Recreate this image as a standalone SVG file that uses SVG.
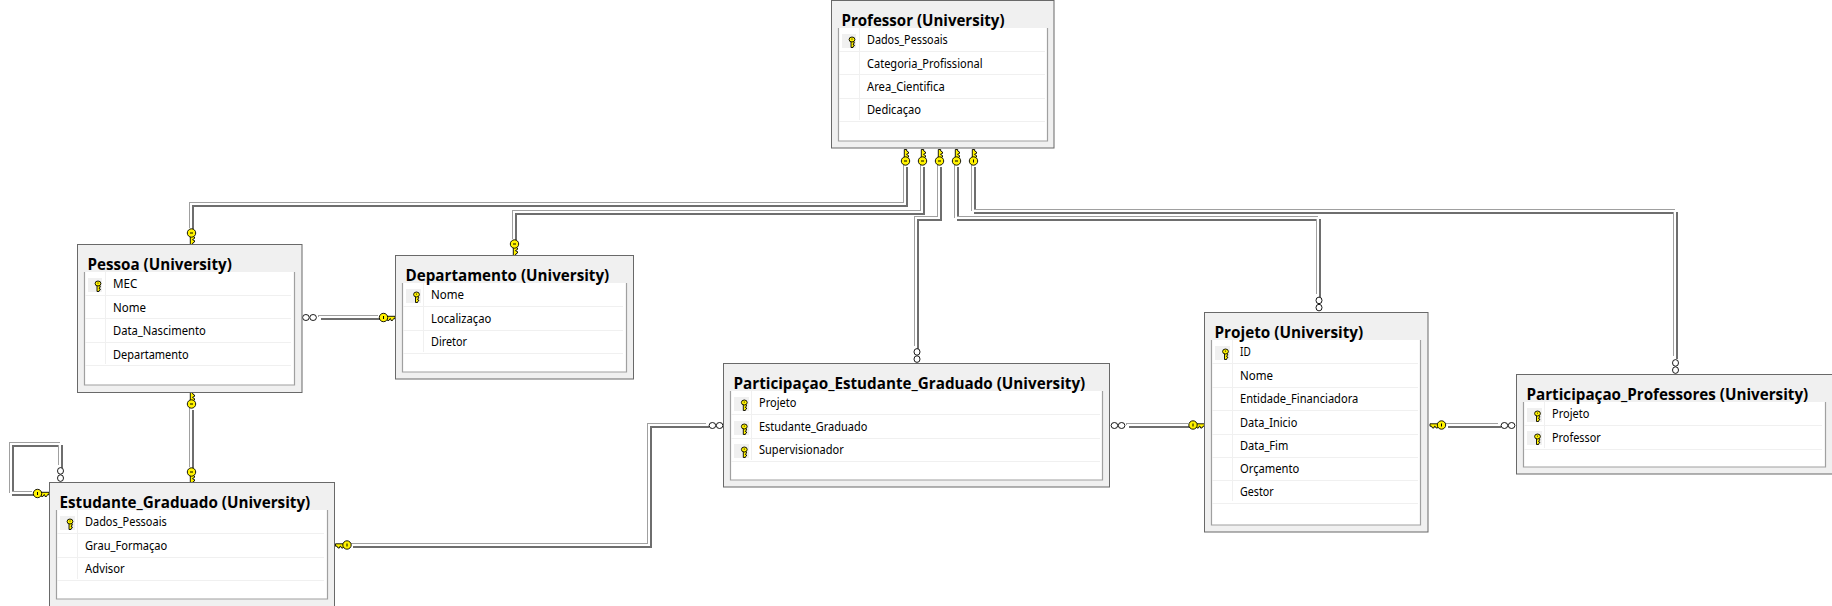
<svg xmlns="http://www.w3.org/2000/svg" width="1832" height="606" viewBox="0 0 1832 606">
<style>
.bg{fill:#fff}
.o{fill:#f0f0f0;stroke:#696969;stroke-width:1}
.i{fill:#fff}
.b{fill:none;stroke:#a0a0a0;stroke-width:1.2}
.s{fill:none;stroke:#f0f0f0;stroke-width:1}
.kb{fill:#f0f0f0}
.t{font-family:"Open Sans","Noto Sans",sans-serif;font-weight:700;font-size:15.5px;fill:#000}
.r{font-family:"Noto Sans","Open Sans",sans-serif;font-size:12px;fill:#000}
.c{fill:none;stroke:#fff;stroke-width:2;stroke-linejoin:miter}
.ky{fill:#fff200;stroke:#000;stroke-width:.9}
.sl{fill:none;stroke:#000;stroke-width:1}
.in{fill:#fff;stroke:#000;stroke-width:.9}
</style>
<defs>
<filter id="bevel" filterUnits="userSpaceOnUse" x="0" y="0" width="1832" height="606" color-interpolation-filters="sRGB">
<feOffset in="SourceAlpha" dx="1.5" dy="1.5" result="d"/><feFlood flood-color="#6e6e6e"/><feComposite in2="d" operator="in" result="dark"/>
<feOffset in="SourceAlpha" dx="-1" dy="-1" result="l"/><feFlood flood-color="#a0a0a0"/><feComposite in2="l" operator="in" result="light"/>
<feMerge><feMergeNode in="dark"/><feMergeNode in="light"/><feMergeNode in="SourceGraphic"/></feMerge>
</filter>
<g id="ck"><path class="ky" d="M-1.2 3V11.5H1.2V10L3 9V7.6L1.2 7V6.4L3 5.4V4L1.2 3Z"/><circle class="ky" cx="0" cy="0" r="4.2"/><path class="sl" d="M-1.5 0H1.5"/></g>
<g id="ck2"><path class="ky" d="M-1.2 3V11.5H1.2V10L3 9V7.6L1.2 7V6.4L3 5.4V4L1.2 3Z"/><circle class="ky" cx="0" cy="0" r="4.2"/><path class="sl" d="M0 -1.5V1.5"/></g>
<g id="rk"><path class="ky" d="M-1 0V7H1V6.2L2.2 5.5V4.4L1 3.9V3.5L2.2 2.8V1.6L1 1Z"/><ellipse class="ky" cx="0" cy="-1" rx="2.9" ry="2.5"/><circle cx="0" cy="-1.5" r=".6" fill="#000"/></g>
<g id="inf"><ellipse class="in" cx="0" cy="-3.6" rx="3" ry="3.3"/><ellipse class="in" cx="0" cy="3.6" rx="3" ry="3.3"/></g>
</defs>
<rect class="bg" width="1832" height="606"/>

<g id="connectors">
<g filter="url(#bevel)">
<path id="c1" class="c" d="M905 165V204H191V229"/>
<path id="c2" class="c" d="M922 165V212H514V240"/>
<path id="c3" class="c" d="M939 165V218H916V347"/>
<path id="c4" class="c" d="M956 165V218H1318V295"/>
<path id="c5" class="c" d="M973 165V211H1675V357"/>
<path id="c6" class="c" d="M319 317H379"/>
<path id="c7" class="c" d="M191 408V468"/>
<path id="c8" class="c" d="M60 466V444H11V493H33"/>
<path id="c9" class="c" d="M351 545H649V425H707"/>
<path id="c10" class="c" d="M1127 425H1189"/>
<path id="c11" class="c" d="M1446 425H1499"/>
</g>
<g id="ends">
<use href="#ck" transform="translate(905.5 161) scale(1 -1)"/>
<use href="#ck" transform="translate(922.5 161) scale(1 -1)"/>
<use href="#ck" transform="translate(939.5 161) scale(1 -1)"/>
<use href="#ck" transform="translate(956.5 161) scale(1 -1)"/>
<use href="#ck2" transform="translate(973.5 161) scale(1 -1)"/>
<use href="#ck" transform="translate(191.5 233)"/>
<use href="#ck" transform="translate(514.5 244)"/>
<use href="#ck" transform="translate(191.5 404) scale(1 -1)"/>
<use href="#ck" transform="translate(191.5 472)"/>
<use href="#ck" transform="matrix(0 1 1 0 37.5 493.5)"/>
<use href="#ck" transform="matrix(0 1 -1 0 347 545)"/>
<use href="#ck" transform="matrix(0 1 1 0 383.5 317.5)"/>
<use href="#ck" transform="matrix(0 1 1 0 1193 425)"/>
<use href="#ck" transform="matrix(0 1 -1 0 1441.5 425)"/>
<use href="#inf" transform="translate(309.5 317.5) rotate(90)"/>
<use href="#inf" transform="translate(917 355.5)"/>
<use href="#inf" transform="translate(1319 304)"/>
<use href="#inf" transform="translate(1675.5 366.5)"/>
<use href="#inf" transform="translate(60.5 474.5)"/>
<use href="#inf" transform="translate(716 425.5) rotate(90)"/>
<use href="#inf" transform="translate(1118 425.5) rotate(90)"/>
<use href="#inf" transform="translate(1508 425.5) rotate(90)"/>
</g>
</g>

<g id="professor">
<rect class="o" x="831.5" y="0.5" width="222.5" height="147.5"/>
<rect class="i" x="838" y="28" width="209" height="113"/>
<path class="b" d="M838.5 28V141H1047.5V28"/>
<path class="s" d="M839 51.5H1045M839 74.5H1045M839 98.5H1045M839 121.5H1045M859.5 28V120"/>
<rect class="kb" x="842" y="34" width="14" height="14"/><use href="#rk" transform="translate(852 40.5)"/>
<text class="t" x="841.5" y="25.7" textLength="163" lengthAdjust="spacingAndGlyphs">Professor (University)</text>
<text class="r" x="867" y="44.2" textLength="80.7" lengthAdjust="spacingAndGlyphs">Dados_Pessoais</text>
<text class="r" x="867" y="67.7" textLength="115.5" lengthAdjust="spacingAndGlyphs">Categoria_Profissional</text>
<text class="r" x="867" y="90.7" textLength="77.7" lengthAdjust="spacingAndGlyphs">Area_Cientifica</text>
<text class="r" x="867" y="113.9" textLength="54" lengthAdjust="spacingAndGlyphs">Dedicaçao</text>
</g>

<g id="pessoa">
<rect class="o" x="77.5" y="244.5" width="224.5" height="148"/>
<rect class="i" x="84" y="272" width="211" height="113"/>
<path class="b" d="M84.5 272V385H294.5V272"/>
<path class="s" d="M85 295.5H291M85 318.5H291M85 342.5H291M85 365.5H291M105.5 272V364"/>
<rect class="kb" x="88" y="278" width="14" height="14"/><use href="#rk" transform="translate(98 284.5)"/>
<text class="t" x="87.5" y="269.7" textLength="144.3" lengthAdjust="spacingAndGlyphs">Pessoa (University)</text>
<text class="r" x="113" y="288.2" textLength="24.3" lengthAdjust="spacingAndGlyphs">MEC</text>
<text class="r" x="113" y="311.7" textLength="33" lengthAdjust="spacingAndGlyphs">Nome</text>
<text class="r" x="113" y="335" textLength="92.7" lengthAdjust="spacingAndGlyphs">Data_Nascimento</text>
<text class="r" x="113" y="358.7" textLength="75.7" lengthAdjust="spacingAndGlyphs">Departamento</text>
</g>

<g id="estudante_graduado">
<rect class="o" x="49.5" y="482.5" width="285" height="130"/>
<rect class="i" x="56" y="510" width="272" height="89"/>
<path class="b" d="M56.5 510V599H327.5V510"/>
<path class="s" d="M57 533.5H324M57 557.5H324M57 580.5H324M77.5 510V579"/>
<rect class="kb" x="60" y="516" width="15" height="14"/><use href="#rk" transform="translate(70 522.5)"/>
<text class="t" x="59.5" y="507.7" textLength="250.7" lengthAdjust="spacingAndGlyphs">Estudante_Graduado (University)</text>
<text class="r" x="85" y="526.2" textLength="81.7" lengthAdjust="spacingAndGlyphs">Dados_Pessoais</text>
<text class="r" x="85" y="550" textLength="82.3" lengthAdjust="spacingAndGlyphs">Grau_Formaçao</text>
<text class="r" x="85" y="573.2" textLength="39.7" lengthAdjust="spacingAndGlyphs">Advisor</text>
</g>

<g id="departamento">
<rect class="o" x="395.5" y="255.5" width="238" height="123.5"/>
<rect class="i" x="402" y="283" width="225" height="89"/>
<path class="b" d="M402.5 283V372H626.5V283"/>
<path class="s" d="M403 306.5H623M403 330.5H623M403 353.5H623M423.5 283V352"/>
<rect class="kb" x="406" y="289" width="15" height="14"/><use href="#rk" transform="translate(416.5 295.5)"/>
<text class="t" x="405.5" y="280.7" textLength="203.7" lengthAdjust="spacingAndGlyphs">Departamento (University)</text>
<text class="r" x="431" y="299.2" textLength="33" lengthAdjust="spacingAndGlyphs">Nome</text>
<text class="r" x="431" y="323" textLength="60.3" lengthAdjust="spacingAndGlyphs">Localizaçao</text>
<text class="r" x="431" y="346.2" textLength="36" lengthAdjust="spacingAndGlyphs">Diretor</text>
</g>

<g id="participacao_estudante_graduado">
<rect class="o" x="723.5" y="363.5" width="386" height="123.5"/>
<rect class="i" x="730" y="391" width="373" height="89"/>
<path class="b" d="M730.5 391V480H1102.5V391"/>
<path class="s" d="M731 414.5H1100M731 438.5H1100M731 461.5H1100M751.5 391V460"/>
<rect class="kb" x="734" y="397" width="15" height="14"/><use href="#rk" transform="translate(744.3 403.5)"/>
<rect class="kb" x="734" y="421" width="15" height="14"/><use href="#rk" transform="translate(744.3 427.5)"/>
<rect class="kb" x="734" y="444" width="15" height="14"/><use href="#rk" transform="translate(744.3 450.5)"/>
<text class="t" x="733.5" y="388.7" textLength="351.7" lengthAdjust="spacingAndGlyphs">Participaçao_Estudante_Graduado (University)</text>
<text class="r" x="759" y="407.2" textLength="37.3" lengthAdjust="spacingAndGlyphs">Projeto</text>
<text class="r" x="759" y="431" textLength="108.3" lengthAdjust="spacingAndGlyphs">Estudante_Graduado</text>
<text class="r" x="759" y="454.2" textLength="84.7" lengthAdjust="spacingAndGlyphs">Supervisionador</text>
</g>

<g id="projeto">
<rect class="o" x="1204.5" y="312.5" width="223.5" height="219.5"/>
<rect class="i" x="1211" y="340" width="210" height="185"/>
<path class="b" d="M1211.5 340V525H1420.5V340"/>
<path class="s" d="M1212 363.5H1418M1212 387.5H1418M1212 410.5H1418M1212 434.5H1418M1212 457.5H1418M1212 480.5H1418M1212 503.5H1418M1232.5 340V501"/>
<rect class="kb" x="1215" y="346" width="15" height="14"/><use href="#rk" transform="translate(1225.5 352.5)"/>
<text class="t" x="1214.5" y="337.7" textLength="148.7" lengthAdjust="spacingAndGlyphs">Projeto (University)</text>
<text class="r" x="1240" y="356" textLength="10.7" lengthAdjust="spacingAndGlyphs">ID</text>
<text class="r" x="1240" y="379.5" textLength="33" lengthAdjust="spacingAndGlyphs">Nome</text>
<text class="r" x="1240" y="403" textLength="118.3" lengthAdjust="spacingAndGlyphs">Entidade_Financiadora</text>
<text class="r" x="1240" y="426.5" textLength="57.3" lengthAdjust="spacingAndGlyphs">Data_Inicio</text>
<text class="r" x="1240" y="450" textLength="48.3" lengthAdjust="spacingAndGlyphs">Data_Fim</text>
<text class="r" x="1240" y="473" textLength="59.3" lengthAdjust="spacingAndGlyphs">Orçamento</text>
<text class="r" x="1240" y="496" textLength="33.7" lengthAdjust="spacingAndGlyphs">Gestor</text>
</g>

<g id="participacao_professores">
<rect class="o" x="1516.5" y="374.5" width="320" height="99.5"/>
<rect class="i" x="1523" y="402" width="302" height="65"/>
<path class="b" d="M1523.5 402V467H1825.5V402"/>
<path class="s" d="M1524 425.5H1822M1524 449.5H1822M1544.5 402V448"/>
<rect class="kb" x="1527" y="408" width="15" height="14"/><use href="#rk" transform="translate(1537.5 414.5)"/>
<rect class="kb" x="1527" y="431" width="15" height="14"/><use href="#rk" transform="translate(1537.5 437.5)"/>
<text class="t" x="1526.5" y="399.7" textLength="281.7" lengthAdjust="spacingAndGlyphs">Participaçao_Professores (University)</text>
<text class="r" x="1552" y="418.2" textLength="37.3" lengthAdjust="spacingAndGlyphs">Projeto</text>
<text class="r" x="1552" y="441.7" textLength="48.7" lengthAdjust="spacingAndGlyphs">Professor</text>
</g>
</svg>
